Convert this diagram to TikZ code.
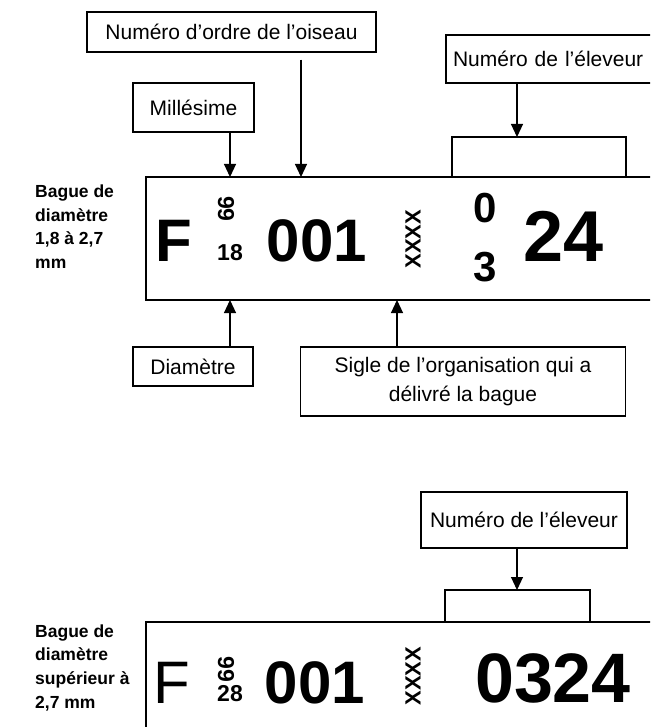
\documentclass[tikz,border=0pt]{standalone}
\usepackage{fontspec}
\setmainfont{Liberation Sans}
\usetikzlibrary{arrows.meta}

\tikzset{
  lbl/.style={draw, line width=1.1pt, inner sep=0pt, align=center, font=\fontsize{21}{29}\selectfont},
  side/.style={anchor=base west, align=left, inner sep=0pt, font=\bfseries\fontsize{17.5}{23.6}\selectfont},
  arr/.style={line width=1.1pt, -{Triangle[width=12pt,length=13pt]}},
  ring/.style={line width=2.2pt},
  brk/.style={line width=1.1pt},
  glyph/.style={inner sep=0pt, font=\bfseries\fontsize{#1}{#1}\selectfont},
  thin/.style={inner sep=0pt, font=\fontsize{#1}{#1}\selectfont}
}

\begin{document}
\begin{tikzpicture}[x=1pt,y=-1pt]
\useasboundingbox (0,0) rectangle (650,727);
\clip (0,0) rectangle (650,727);

% ring of 1,8 to 2,7 mm
\node[lbl, minimum width=289pt, minimum height=40pt] (ordre) at (231.5,32) {Numéro d’ordre de l’oiseau};
\node[lbl, minimum width=121pt, minimum height=49pt] (millesime) at (193.5,107.5) {Millésime};
\node[lbl, minimum width=214pt, minimum height=48pt, text width=200pt, align=left] (eleveurA) at (553,59) {Numéro de l’éleveur};
\node[lbl, minimum width=120pt, minimum height=39pt] (diametre) at (193,366.5) {Diamètre};
\node[lbl, minimum width=325pt, minimum height=69pt] (sigle) at (463,381.5) {Sigle de l’organisation qui a\\délivré la bague};

\node[side] (txtA) at (35,268.5) {Bague de\\diamètre\\1,8 à 2,7\\mm};

\coordinate (ringA) at (146,177);
\coordinate (ringAend) at (146,300);
\draw[ring] (660,177) -- (ringA) -- (ringAend) -- (660,300);

\node[glyph=60, anchor=base] (fA) at (174,261) {F};
\node[glyph=23, rotate=-90] (anA) at (226,209) {99};
\node[glyph=23] (diamA) at (230,253) {18};
\node[glyph=60, anchor=base] (numA) at (317,261) {001};
\node[glyph=22, rotate=90] (orgA) at (413,239) {XXXX};
\node[glyph=42] (topA) at (485,208) {0};
\node[glyph=42] (botA) at (485,267) {3};
\node[glyph=72, anchor=base] (eleA) at (564,261) {24};

\coordinate (mA) at (230,177);
\coordinate (oA) at (301,177);
\coordinate (dA) at (230,300);
\coordinate (sA) at (397,300);
\coordinate (bA) at (517,137);

\draw[arr] (millesime.south -| mA) -- (mA);
\draw[arr] ([yshift=-7pt]ordre.south -| oA) -- (oA);
\draw[arr] (eleveurA.south -| bA) -- (bA);
\draw[arr] (diametre.north -| dA) -- (dA);
\draw[arr] (sigle.north -| sA) -- (sA);
\draw[brk] (452,177) -- (452,137) -- (626,137) -- (626,177);

% ring over 2,7 mm
\node[lbl, minimum width=206pt, minimum height=56pt] (eleveurB) at (524,520) {Numéro de l’éleveur};

\node[side] (txtB) at (35,708) {Bague de\\diamètre\\supérieur à\\2,7 mm};

\coordinate (ringB) at (146,622);
\draw[ring] (660,622) -- (ringB) -- (146,740);

\node[thin=60, anchor=base] (fB) at (172,703) {F};
\node[glyph=23, rotate=-90] (anB) at (226,669) {99};
\node[glyph=23] (diamB) at (230,694) {28};
\node[glyph=60, anchor=base] (numB) at (315,703) {001};
\node[glyph=22, rotate=90] (orgB) at (413,676) {XXXX};
\node[glyph=70, anchor=base] (eleB) at (553,702) {0324};

\coordinate (bB) at (517,590);
\draw[arr] (eleveurB.south -| bB) -- (bB);
\draw[brk] (445,621) -- (445,590) -- (590,590) -- (590,621);
\end{tikzpicture}
\end{document}
